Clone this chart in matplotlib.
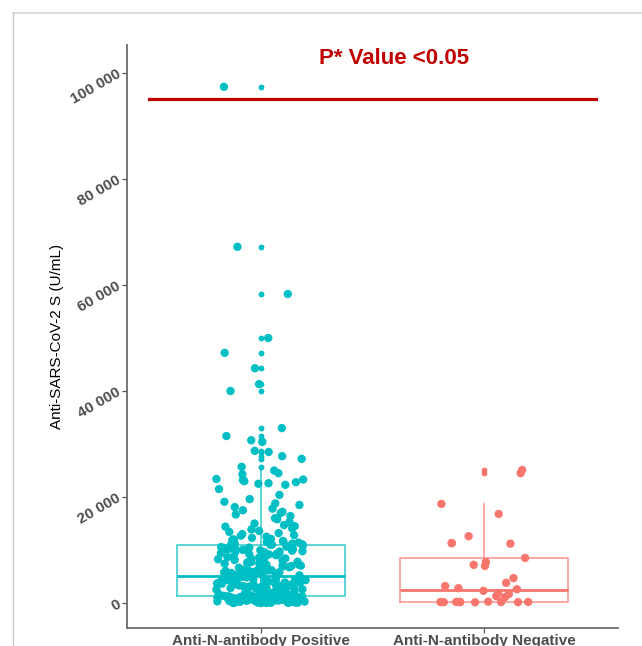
import numpy as np
import matplotlib
matplotlib.use('Agg')
import matplotlib.pyplot as plt
from matplotlib.lines import Line2D
from matplotlib.ticker import FuncFormatter

plt.rcParams['font.family'] = ['Liberation Sans', 'DejaVu Sans']

groups = ['Anti-N-antibody Positive', 'Anti-N-antibody Negative']
colors = ['#00BFC4', '#F8766D']

# values (U/mL)
pos_values = [
    # above the box, incl. outliers
    97400, 67200, 58300, 50000, 47200, 44300, 41300, 40000, 33000, 31500,
    30700, 30400, 28700, 28500, 27700, 27200, 25700,
    25000, 24500, 24300, 23400, 23300, 23200, 23000, 22800, 22600, 22500,
    22300, 21500, 20400, 19600, 19100, 18800, 18500, 18100, 17800, 17500,
    17200, 17000, 16700, 16400, 16000, 15800, 15300, 15000, 14700, 14500,
    14400, 14100, 13900, 13600, 13400, 13200, 13000, 12800, 12700, 12500,
    12300, 12100, 12000, 11900, 11700, 11600, 11500, 11400, 11300, 11200,
    11100, 11050, 11000, 10980,
    # inside the box
    10850, 10700, 10610, 10550, 10460, 10390, 10300, 10240, 10170, 10080,
    10020, 9950, 9860, 9770, 9720, 9630, 9550, 9490, 9400, 9320, 9260, 9170,
    9110, 9020, 8940, 8880, 8790, 8720, 8650, 8560, 8490, 8410, 8350, 8260,
    8180, 8120, 8030, 7970, 7880, 7800, 7740, 7650, 7590, 7500, 7420, 7360,
    7270, 7210, 7120, 7040, 6980, 6890, 6810, 6750, 6660, 6580, 6520, 6430,
    6370, 6280, 6200, 6140, 6050, 5990, 5900, 5820, 5760, 5670, 5610, 5520,
    5440, 5380, 5290, 5230, 5150,
    5000, 4910, 4830, 4760, 4690, 4630, 4560, 4510, 4440, 4380, 4310, 4260,
    4190, 4120, 4070, 4000, 3940, 3880, 3810, 3760, 3690, 3630, 3570, 3510,
    3450, 3390, 3330, 3280, 3210, 3160, 3090, 3040, 2980, 2930, 2870, 2810,
    2760, 2700, 2650, 2590, 2540, 2480, 2430, 2370, 2320, 2270, 2210, 2160,
    2110, 2050, 2000, 1950, 1890, 1840, 1790, 1740, 1690, 1640, 1590, 1540,
    1500, 1460, 1420, 1390, 1360, 1340,
    1300, 1280, 1250, 1230, 1210, 1190, 1160, 1140, 1120, 1100, 1080, 1060,
    1030, 1010, 990, 970, 950, 930, 900, 880, 860, 840, 820, 800, 780, 750,
    730, 710, 690, 670, 650, 630, 610, 590, 560, 540, 520, 500, 480, 460,
    440, 420, 400, 380, 360, 340, 310, 290, 270, 250, 230, 210, 190, 170,
    150, 130, 110, 90, 70, 50, 40, 30, 20, 10, 0, 0,
]
neg_values = [
    25100, 24500, 18700, 16800, 12600, 11300, 11300, 11200, 8500, 7700,
    7200, 7000, 4700, 3800, 3200, 2800, 2600, 2300, 1900, 1700, 1300, 1100,
    250, 220, 200, 200, 180, 170, 160, 150, 150, 140,
]

# box statistics
box_q1 = [1320, 200]
box_med = [5090, 2450]
box_q3 = [10940, 8500]
box_lo = [0, 140]
box_hi = [25000, 18700]
pos_outliers = [97400, 67200, 58300, 50000, 47200, 44300, 41300, 40000, 33000,
                31500, 30700, 30400, 28700, 28500, 27700, 27200, 25700]
neg_outliers = [25100, 24500]

fig = plt.figure(figsize=(6.42, 6.46), dpi=100)
ax = fig.add_axes([127 / 642, 1 - 628 / 646, 491 / 642, 583 / 646])

stats = []
for i, outl in enumerate([pos_outliers, neg_outliers]):
    stats.append(dict(q1=box_q1[i], med=box_med[i], q3=box_q3[i],
                      whislo=box_lo[i], whishi=box_hi[i], fliers=outl))

for i in range(2):
    c = colors[i]
    ax.bxp([stats[i]], positions=[i + 1], widths=0.75, showcaps=False,
           boxprops=dict(color=c, lw=1.2, alpha=0.75),
           whiskerprops=dict(color=c, lw=1.2, alpha=0.75),
           medianprops=dict(color=c, lw=2),
           flierprops=dict(marker='o', markersize=4.2, markerfacecolor=c,
                           markeredgecolor='none'),
           zorder=2)

# jitter like geom_jitter(width = 0.2)
rng = np.random.default_rng(3)
for i, vals in enumerate([pos_values, neg_values]):
    xj = i + 1 + rng.uniform(-0.2, 0.2, len(vals))
    ax.scatter(xj, vals, s=36, color=colors[i], edgecolors='none', zorder=3)

ax.plot([0.5, 2.5], [95000, 95000], color='#C00000', lw=2.3, zorder=4)
ax.text(1.596, 101700, 'P* Value <0.05', color='#C00000', fontsize=16,
        fontweight='bold', ha='center', va='baseline')

ax.set_xlim(0.4, 2.6)
ax.set_ylim(-4717, 105283)
ax.set_xticks([1, 2])
ax.set_xticklabels(groups, fontsize=11, fontweight='bold', color='#4D4D4D')
ax.set_yticks(np.arange(0, 100001, 20000))
ax.yaxis.set_major_formatter(FuncFormatter(lambda v, p: f'{int(v):,}'.replace(',', ' ')))
for lab in ax.get_yticklabels():
    lab.set_rotation(30)
    lab.set_fontsize(11)
    lab.set_fontweight('bold')
    lab.set_color('#4D4D4D')
    lab.set_ha('right')
    lab.set_va('center')
    lab.set_rotation_mode('anchor')
ax.tick_params(axis='both', length=3.5, width=0.9, color='#555555', pad=2)
ax.tick_params(axis='x', pad=0.5)
ax.set_ylabel('Anti-SARS-CoV-2 S (U/mL)', fontsize=11, color='black')
ax.yaxis.set_label_coords(-0.128, 0.5)

for s in ['top', 'right']:
    ax.spines[s].set_visible(False)
for s in ['left', 'bottom']:
    ax.spines[s].set_color('#6B6B6B')
    ax.spines[s].set_linewidth(1.3)

# screenshot frame
fig.add_artist(Line2D([13 / 642, 1], [1 - 13 / 646] * 2, transform=fig.transFigure,
                      color='#DCDCDC', lw=1.5))
fig.add_artist(Line2D([13 / 642] * 2, [0, 1 - 13 / 646], transform=fig.transFigure,
                      color='#C8C8C8', lw=1.0))

fig.savefig('out.png', dpi=100)
